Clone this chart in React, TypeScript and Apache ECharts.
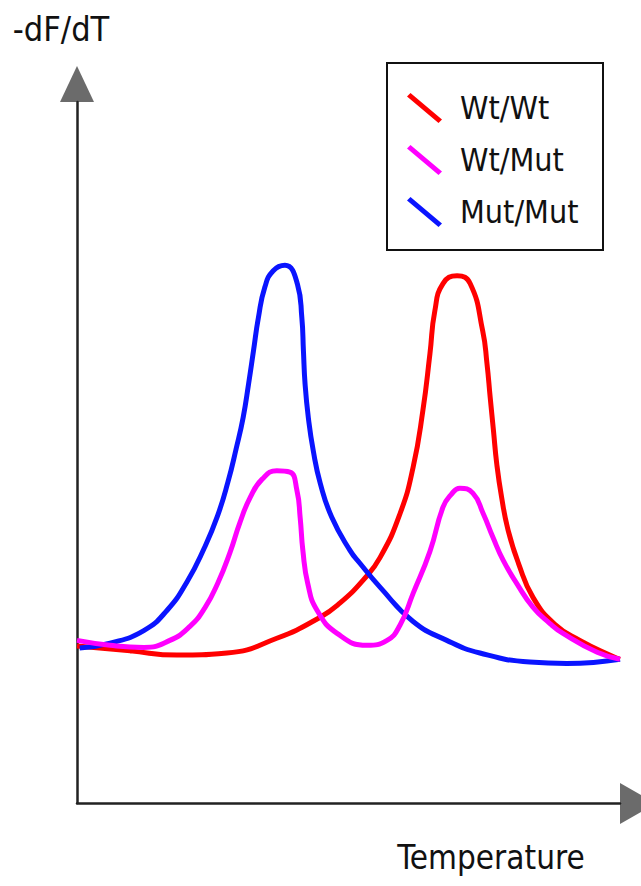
import React, { useEffect, useRef } from "react";
import * as echarts from "echarts";

const seriesNames = ["Wt/Wt", "Wt/Mut", "Mut/Mut"];
const seriesColors = ["#ff0000", "#ff00ff", "#0a14ff"];

const xAxisTitle = "Temperature";
const yAxisTitle = "-dF/dT";

// Wt/Wt (red)
const wtWtTemp = [0, 9.8, 18.4, 27.6, 36.8, 44.8, 48.4, 52.7, 55.8, 59.5, 61.9, 63.7, 65.0, 65.9, 67.4, 70.0, 72.4, 74.7, 75.5, 76.1, 76.7, 77.3, 78.2, 79.4, 81.3, 84.0, 88.0, 92.6, 98.7, 100];
const wtWtVal = [22.4, 21.7, 21.1, 21.4, 23.5, 26.5, 28.5, 31.8, 35.0, 41.3, 47.9, 56.0, 64.1, 70.2, 74.1, 75.2, 74.1, 67.4, 62.7, 57.8, 53.1, 48.4, 43.6, 38.9, 34.2, 29.3, 25.5, 23.2, 20.9, 20.5];

// Wt/Mut (magenta)
const wtMutTemp = [0, 6.1, 12.3, 17.1, 20.8, 23.6, 26.0, 28.2, 30.0, 31.9, 34.1, 36.8, 39.2, 40.5, 41.1, 41.6, 42.5, 44.2, 47.9, 53.4, 57.1, 59.5, 61.9, 65.0, 67.4, 68.9, 70.5, 72.9, 74.8, 76.6, 78.5, 81.0, 84.0, 87.1, 89.5, 95.8, 100];
const wtMutVal = [23.2, 22.5, 22.2, 23.2, 25.2, 27.9, 31.5, 35.8, 40.0, 43.6, 46.2, 47.4, 47.2, 44.6, 40.7, 36.0, 31.3, 27.5, 24.2, 22.5, 23.2, 25.4, 29.9, 35.9, 42.2, 44.0, 44.9, 44.2, 41.3, 37.9, 34.6, 31.3, 27.9, 25.6, 24.2, 21.5, 20.5];

// Mut/Mut (blue)
const mutMutTemp = [0.5, 6.1, 12.3, 16.6, 20.3, 23.4, 25.9, 27.8, 29.3, 30.6, 31.6, 32.5, 33.4, 34.6, 36.1, 38.3, 40.6, 41.4, 41.7, 42.0, 42.6, 43.5, 44.8, 46.9, 50.3, 52.1, 55.8, 61.9, 68.1, 74.2, 83.4, 90.2, 100];
const mutMutVal = [22.1, 22.8, 24.6, 27.5, 31.6, 36.3, 41.0, 45.8, 50.5, 55.0, 59.8, 64.5, 69.2, 73.6, 75.9, 76.7, 74.0, 69.3, 64.5, 59.8, 55.0, 50.3, 45.6, 40.8, 36.0, 34.2, 30.8, 25.9, 23.2, 21.4, 20.1, 19.9, 20.5];

const FONT = "'DejaVu Sans Condensed', 'DejaVu Sans', sans-serif";

const pair = (xs: number[], ys: number[]) => xs.map((x, i) => [x, ys[i]]);

export default function App() {
  const ref = useRef<HTMLDivElement>(null);
  useEffect(() => {
    const chart = echarts.init(ref.current as HTMLDivElement, null, { renderer: "svg" });
    const temps = [wtWtTemp, wtMutTemp, mutMutTemp];
    const vals = [wtWtVal, wtMutVal, mutMutVal];
    chart.setOption({
      animation: false,
      backgroundColor: "#ffffff",
      grid: { left: 77, right: 21, top: 102, bottom: 83 },
      xAxis: {
        type: "value",
        min: 0,
        max: 100,
        name: xAxisTitle,
        nameLocation: "middle",
        nameGap: 38,
        nameTextStyle: { fontFamily: FONT, fontSize: 33, color: "#111", padding: [0, 0, 0, 285] },
        axisLine: { show: true, onZero: false, lineStyle: { color: "#222", width: 2.5 } },
        axisTick: { show: false },
        axisLabel: { show: false },
        splitLine: { show: false },
      },
      yAxis: {
        type: "value",
        min: 0,
        max: 100,
        name: yAxisTitle,
        nameLocation: "end",
        nameGap: 56,
        nameTextStyle: { fontFamily: FONT, fontSize: 34, color: "#111", align: "center", padding: [0, 32, 0, 0] },
        axisLine: { show: true, onZero: false, lineStyle: { color: "#222", width: 2.5 } },
        axisTick: { show: false },
        axisLabel: { show: false },
        splitLine: { show: false },
      },
      legend: {
        orient: "vertical",
        left: 407,
        top: 92,
        padding: 0,
        itemWidth: 35,
        itemHeight: 30,
        itemGap: 20,
        selectedMode: false,
        icon: "path://M0,3.5L3.5,0L35,26.5L31.5,30Z",
        itemStyle: { borderWidth: 0 },
        textStyle: { fontFamily: FONT, fontSize: 32, color: "#111", lineHeight: 22, padding: [0, 0, 8, 13] },
        data: seriesNames,
      },
      graphic: [
        { type: "rect", shape: { x: 387, y: 63, width: 216, height: 187 }, style: { fill: "transparent", stroke: "#111", lineWidth: 2 }, z: 0 },
        { type: "polygon", shape: { points: [[77, 66], [60, 102], [94, 102]] }, style: { fill: "#6b6b6b" } },
        { type: "polygon", shape: { points: [[620, 783], [620, 824], [656, 803.5]] }, style: { fill: "#6b6b6b" } },
      ],
      series: seriesNames.map((name, i) => ({
        name,
        type: "line",
        data: pair(temps[i], vals[i]),
        showSymbol: false,
        symbol: "none",
        smooth: 0.5,
        color: seriesColors[i],
        itemStyle: { color: seriesColors[i] },
        lineStyle: { width: 5, color: seriesColors[i] },
        z: i === 1 ? 4 : i === 2 ? 3 : 2,
      })),
    });
    return () => chart.dispose();
  }, []);
  return (
    <div
      ref={ref}
      style={{ position: "fixed", left: 0, top: 0, width: 641, height: 886, background: "#fff" }}
    />
  );
}
